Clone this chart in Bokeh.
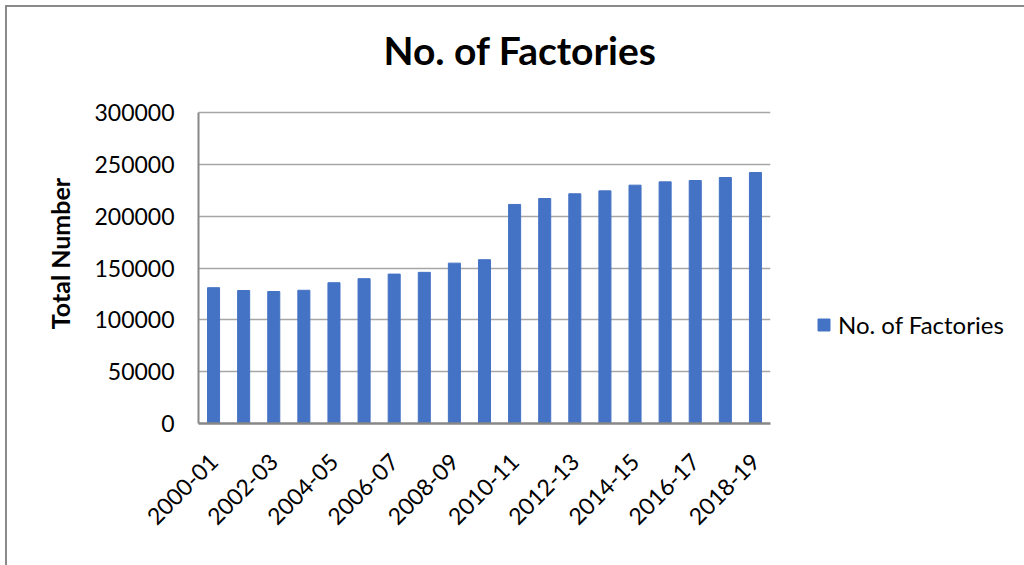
import math
from bokeh.plotting import figure
from bokeh.models import Range1d, FixedTicker, Legend, LegendItem, ColumnDataSource
from bokeh.embed import file_html
from bokeh.resources import INLINE

categories = ["2000-01", "2001-02", "2002-03", "2003-04", "2004-05", "2005-06",
              "2006-07", "2007-08", "2008-09", "2009-10", "2010-11", "2011-12",
              "2012-13", "2013-14", "2014-15", "2015-16", "2016-17", "2017-18",
              "2018-19"]
factories = [131000, 128300, 127300, 128500, 135800, 139700, 144100, 145800,
             154700, 158000, 211300, 217000, 221600, 224400, 229900, 233100,
             234400, 237300, 242100]
y_ticks = [0, 50000, 100000, 150000, 200000, 250000, 300000]

FONT = "Lato"
BAR = "#4472C4"
GRID = "#a6a6a6"
AXIS = "#878787"

# frame extends a little above the top tick so the title can sit higher
FRAME_H = 340
AXIS_PX = 311
y_top = y_ticks[-1] * FRAME_H / AXIS_PX

idx = list(range(len(categories)))
src = ColumnDataSource(dict(x=idx, top=factories, cat=categories))

p = figure(frame_width=572, frame_height=FRAME_H, output_backend="svg", toolbar_location=None,
           x_range=Range1d(-0.5, len(categories) - 0.5), y_range=Range1d(0, y_top),
           min_border_left=191, min_border_right=247, min_border_top=76,
           min_border_bottom=142)
p.styles = {"margin-left": "5px", "margin-top": "5px",
            "border-left": "2px solid #8a8a8a", "border-top": "2px solid #8a8a8a"}
p.outline_line_color = None
p.background_fill_color = "white"
p.border_fill_color = "white"

r = p.vbar(x="x", top="top", width=0.4, source=src, fill_color=BAR, line_color=BAR)

p.title.text = "No. of Factories"
p.title.text_font = FONT
p.title.text_font_size = "39px"
p.title.text_font_style = "bold"
p.title.align = "left"
p.title.offset = 185
p.title.vertical_align = "middle"
p.title.standoff = 20
p.title.text_color = "black"

# y axis
p.yaxis.ticker = FixedTicker(ticks=y_ticks)
p.yaxis.bounds = (y_ticks[0], y_ticks[-1])
p.yaxis.formatter.use_scientific = False
p.yaxis.major_label_text_font = FONT
p.yaxis.major_label_text_font_size = "23px"
p.yaxis.major_label_text_color = "black"
p.yaxis.major_tick_out = 0
p.yaxis.major_tick_in = 0
p.yaxis.minor_tick_out = 0
p.yaxis.minor_tick_in = 0
p.yaxis.major_label_standoff = 24
p.yaxis.axis_line_color = AXIS
p.yaxis.axis_line_width = 2
p.yaxis.axis_label = "Total Number"
p.yaxis.axis_label_text_font = FONT
p.yaxis.axis_label_text_font_size = "25px"
p.yaxis.axis_label_text_font_style = "bold"
p.yaxis.axis_label_text_color = "black"
p.yaxis.axis_label_standoff = 16

# x axis
p.xaxis.ticker = FixedTicker(ticks=idx[::2])
p.xaxis.major_label_overrides = {i: categories[i] for i in idx[::2]}
p.xaxis.major_label_orientation = math.pi / 4
p.xaxis.major_label_text_font = FONT
p.xaxis.major_label_text_font_size = "23px"
p.xaxis.major_label_text_color = "black"
p.xaxis.major_tick_out = 0
p.xaxis.major_tick_in = 0
p.xaxis.minor_tick_out = 0
p.xaxis.minor_tick_in = 0
p.xaxis.major_label_standoff = 34
p.xaxis.axis_line_color = AXIS
p.xaxis.axis_line_width = 2.5

p.xgrid.grid_line_color = None
p.ygrid.grid_line_color = GRID
p.ygrid.grid_line_width = 1.5

legend = Legend(items=[LegendItem(label="No. of Factories", renderers=[r])],
                location=(46, 84))
legend.label_text_font = FONT
legend.label_text_font_size = "24px"
legend.label_text_color = "black"
legend.glyph_width = 15
legend.glyph_height = 15
legend.label_standoff = 7
legend.padding = 0
legend.margin = 0
legend.border_line_color = None
legend.background_fill_alpha = 0
p.add_layout(legend, "right")

open("out.html", "w").write(file_html(p, INLINE))
